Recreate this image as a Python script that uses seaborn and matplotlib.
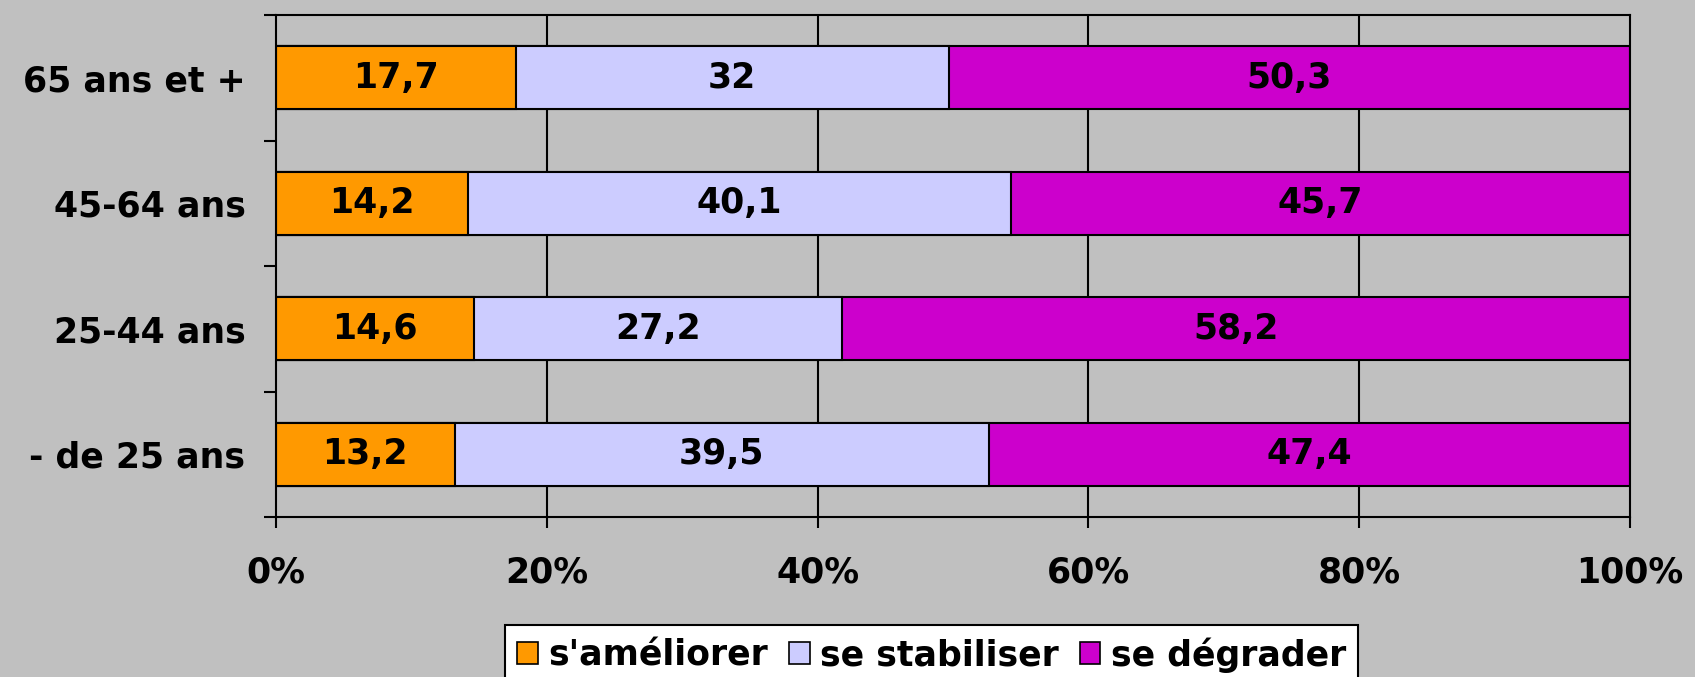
import numpy as np
import pandas as pd
import seaborn as sns
import matplotlib.pyplot as plt
from matplotlib.patches import Patch

# Data
categories = ['65 ans et +', '45-64 ans', '25-44 ans', '- de 25 ans']
ameliorer = [17.7, 14.2, 14.6, 13.2]
stabiliser = [32, 40.1, 27.2, 39.5]
degrader = [50.3, 45.7, 58.2, 47.4]
series_names = ["s'améliorer", "se stabiliser", "se dégrader"]
colors = ['#FF9900', '#CCCCFF', '#CC00CC']
xticks = [0, 20, 40, 60, 80, 100]

sns.set_theme(style='white')
plt.rcParams['font.family'] = ['DejaVu Sans']
plt.rcParams['font.weight'] = 'bold'
plt.rcParams['text.color'] = 'black'
plt.rcParams['xtick.color'] = 'black'
plt.rcParams['ytick.color'] = 'black'

FS = 25

df = pd.DataFrame({'cat': categories, 'a': ameliorer, 's': stabiliser, 'd': degrader})
tot = df['a'] + df['s'] + df['d']
# normalise to 100%
df['a_p'] = df['a'] / tot * 100
df['s_p'] = df['s'] / tot * 100
df['d_p'] = df['d'] / tot * 100
df['cum1'] = df['a_p']
df['cum2'] = df['a_p'] + df['s_p']
df['cum3'] = df['a_p'] + df['s_p'] + df['d_p']

fig = plt.figure(figsize=(16.95, 6.77), dpi=100)
fig.patch.set_facecolor('#C0C0C0')
ax = fig.add_axes([0.1628, 0.2363, 0.7989, 0.7415])
ax.set_facecolor('#C0C0C0')

# grid behind bars
for x in xticks[1:-1]:
    ax.axvline(x, color='black', lw=1.5, zorder=0)

# stacked bars: draw cumulative totals, longest first
for col, c in zip(['cum3', 'cum2', 'cum1'], colors[::-1]):
    sns.barplot(data=df, x=col, y='cat', color=c, orient='h', width=0.5,
                edgecolor='black', linewidth=1.5, saturation=1, ax=ax, zorder=2)

def fmt(v):
    s = ('%.1f' % v).rstrip('0').rstrip('.')
    return s.replace('.', ',')

for i in range(len(categories)):
    starts = [0, df['cum1'][i], df['cum2'][i]]
    widths = [df['a_p'][i], df['s_p'][i], df['d_p'][i]]
    vals = [ameliorer[i], stabiliser[i], degrader[i]]
    for st, w, v in zip(starts, widths, vals):
        ax.text(st + w / 2, i, fmt(v), ha='center', va='center',
                fontsize=FS, fontweight='bold', color='black', zorder=5)

ax.set_xlim(0, 100)
ax.set_ylim(3.5, -0.5)
ax.set_xticks(xticks)
ax.set_xticklabels([f'{x}%' for x in xticks], fontsize=FS, fontweight='bold')
ax.set_yticks(range(len(categories)))
ax.set_yticklabels(categories, fontsize=FS, fontweight='bold')
ax.set_yticks(np.arange(-0.5, 4, 1), minor=True)
ax.tick_params(axis='y', which='major', length=0, pad=22)
ax.tick_params(axis='y', which='minor', length=9, width=1.5, color='black', left=True)
ax.tick_params(axis='x', which='major', length=8, width=1.5, color='black',
               bottom=True, pad=20)
ax.set_xlabel('')
ax.set_ylabel('')
for sp in ax.spines.values():
    sp.set_visible(True)
    sp.set_color('black')
    sp.set_linewidth(1.5)

handles = [Patch(facecolor=c, edgecolor='black', linewidth=1.2) for c in colors]
leg = fig.legend(handles, series_names, loc='upper center',
                 bbox_to_anchor=(0.5496, 0.0768), ncol=3, frameon=True,
                 fancybox=False, edgecolor='black', facecolor='white', framealpha=1,
                 prop={'size': FS, 'weight': 'bold'}, handlelength=0.6,
                 handleheight=0.6, handletextpad=0.3, columnspacing=0.6,
                 borderpad=0.35, borderaxespad=0)
leg.get_frame().set_linewidth(1.5)

fig.savefig('out.png', dpi=100, facecolor=fig.get_facecolor())
